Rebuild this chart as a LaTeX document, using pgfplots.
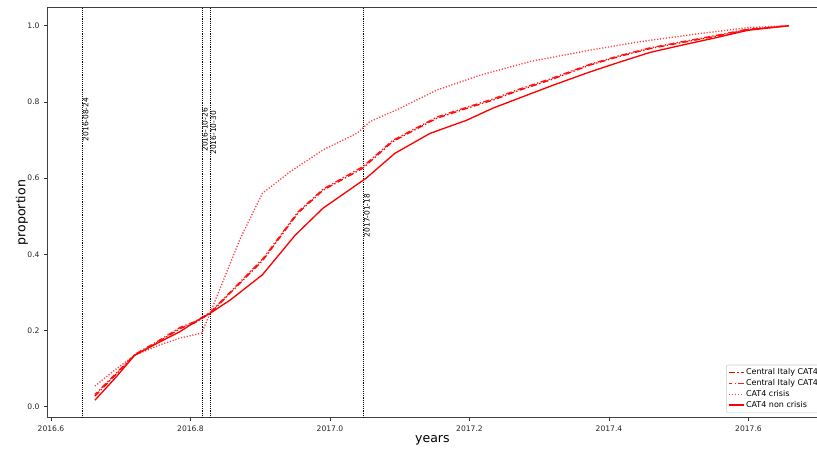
\documentclass[border=0pt]{standalone}
\usepackage{fontspec}
\setmainfont{DejaVu Sans}
\usepackage{pgfplots}
\pgfplotsset{compat=1.18}
\begin{document}
\begin{tikzpicture}
\begin{axis}[
  scale only axis, width=577pt, height=308pt,
  xmin=2016.5953, xmax=2017.6982, ymin=-0.0297, ymax=1.0483,
  xtick={2016.6,2016.8,2017.0,2017.2,2017.4,2017.6},
  ytick={0,0.2,0.4,0.6,0.8,1.0},
  x tick label style={/pgf/number format/.cd, fixed, fixed zerofill, precision=1, 1000 sep={}},
  y tick label style={/pgf/number format/.cd, fixed, fixed zerofill, precision=1},
  /pgf/number format/assume math mode=true,
  ticklabel style={font=\fontsize{5.7}{6.5}\selectfont, text=black!85},
  tick align=outside, major tick length=2.6pt,
  tick style={black!80, line width=0.6pt},
  xtick pos=bottom, ytick pos=left,
  axis line style={black!75, line width=0.7pt},
  xlabel={years}, ylabel={proportion},
  label style={font=\fontsize{9.4}{11}\selectfont},
  xlabel style={at={(axis description cs:0.5,-0.0536)}, anchor=center},
  ylabel style={at={(axis description cs:-0.0334,0.5)}, anchor=center},
  legend cell align=left,
  legend image code/.code={\draw[mark repeat=2,mark phase=2,#1] plot coordinates {(0pt,0pt) (5.5pt,0pt) (11pt,0pt)};},
  legend style={at={(0.8817,0.012)}, anchor=south west, draw=black!20, rounded corners=1.5pt,
    font=\fontsize{6}{6.5}\selectfont, inner sep=1.5pt, row sep=-0.6pt,
    nodes={inner sep=1.3pt}},
]
% vertical event lines
\addplot[black, line width=0.6pt, dash pattern=on 0.7pt off 0.7pt, forget plot] coordinates {(2016.6448,-0.0297) (2016.6448,1.0483)};
\addplot[black, line width=0.6pt, dash pattern=on 0.7pt off 0.7pt, forget plot] coordinates {(2016.8169,-0.0297) (2016.8169,1.0483)};
\addplot[black, line width=0.6pt, dash pattern=on 0.7pt off 0.7pt, forget plot] coordinates {(2016.8279,-0.0297) (2016.8279,1.0483)};
\addplot[black, line width=0.6pt, dash pattern=on 0.7pt off 0.7pt, forget plot] coordinates {(2017.0480,-0.0297) (2017.0480,1.0483)};
\node[rotate=90, anchor=north west, inner sep=0.3pt, font=\fontsize{5.6}{6}\selectfont] at (axis cs:2016.6448,0.695) {2016-08-24};
\node[rotate=90, anchor=north west, inner sep=0.3pt, font=\fontsize{5.6}{6}\selectfont] at (axis cs:2016.8155,0.668) {2016-10-26};
\node[rotate=90, anchor=north west, inner sep=0.3pt, font=\fontsize{5.6}{6}\selectfont] at (axis cs:2016.8279,0.660) {2016-10-30};
\node[rotate=90, anchor=north west, inner sep=0.3pt, font=\fontsize{5.6}{6}\selectfont] at (axis cs:2017.0480,0.443) {2017-01-18};

% Central Italy CAT4 (1)
\addplot[red, line width=1pt, dash pattern=on 4.5pt off 1.8pt on 1pt off 1.8pt] coordinates {
(2016.663,0.028) (2016.720,0.135) (2016.756,0.172) (2016.785,0.205) (2016.806,0.220)
(2016.828,0.245) (2016.871,0.324) (2016.904,0.385) (2016.954,0.508) (2016.990,0.568)
(2017.047,0.626) (2017.090,0.696) (2017.153,0.757) (2017.196,0.783) (2017.234,0.805)
(2017.272,0.831) (2017.315,0.857) (2017.373,0.897) (2017.416,0.920) (2017.459,0.940)
(2017.502,0.955) (2017.552,0.972) (2017.599,0.990) (2017.658,1.000)};
\addlegendentry{Central Italy CAT4}
% Central Italy CAT4 (2)
\addplot[red!90!white, line width=1pt, dash pattern=on 4.5pt off 1.8pt on 1pt off 1.8pt, dash phase=2pt] coordinates {
(2016.663,0.032) (2016.720,0.137) (2016.756,0.175) (2016.785,0.208) (2016.806,0.223)
(2016.828,0.247) (2016.871,0.327) (2016.904,0.389) (2016.954,0.511) (2016.990,0.571)
(2017.047,0.630) (2017.090,0.699) (2017.153,0.760) (2017.196,0.786) (2017.234,0.808)
(2017.272,0.834) (2017.315,0.860) (2017.373,0.899) (2017.416,0.922) (2017.459,0.942)
(2017.502,0.957) (2017.552,0.974) (2017.599,0.991) (2017.658,1.000)};
\addlegendentry{Central Italy CAT4}
% CAT4 crisis
\addplot[red!75!white, line width=1pt, dash pattern=on 0.9pt off 1.3pt] coordinates {
(2016.663,0.054) (2016.692,0.097) (2016.720,0.135) (2016.756,0.162) (2016.785,0.180)
(2016.816,0.193) (2016.828,0.245) (2016.871,0.440) (2016.903,0.560) (2016.943,0.617)
(2016.990,0.674) (2017.039,0.718) (2017.057,0.748) (2017.100,0.783) (2017.153,0.831)
(2017.215,0.870) (2017.287,0.906) (2017.373,0.936) (2017.444,0.958) (2017.516,0.976)
(2017.599,0.995) (2017.658,1.000)};
\addlegendentry{CAT4 crisis}
% CAT4 non crisis
\addplot[red, line width=1pt] coordinates {
(2016.663,0.017) (2016.692,0.075) (2016.720,0.135) (2016.756,0.170) (2016.785,0.197)
(2016.806,0.222) (2016.828,0.245) (2016.857,0.280) (2016.903,0.346) (2016.950,0.450)
(2016.990,0.521) (2017.052,0.600) (2017.093,0.665) (2017.143,0.717) (2017.196,0.752)
(2017.234,0.784) (2017.277,0.814) (2017.320,0.844) (2017.373,0.879) (2017.416,0.905)
(2017.459,0.930) (2017.502,0.948) (2017.552,0.968) (2017.599,0.988) (2017.658,1.000)};
\addlegendentry{CAT4 non crisis}
\end{axis}
\pgfresetboundingbox
\useasboundingbox (-35.8pt,-26.25pt) rectangle (577pt,313.5pt);
\end{tikzpicture}
\end{document}
